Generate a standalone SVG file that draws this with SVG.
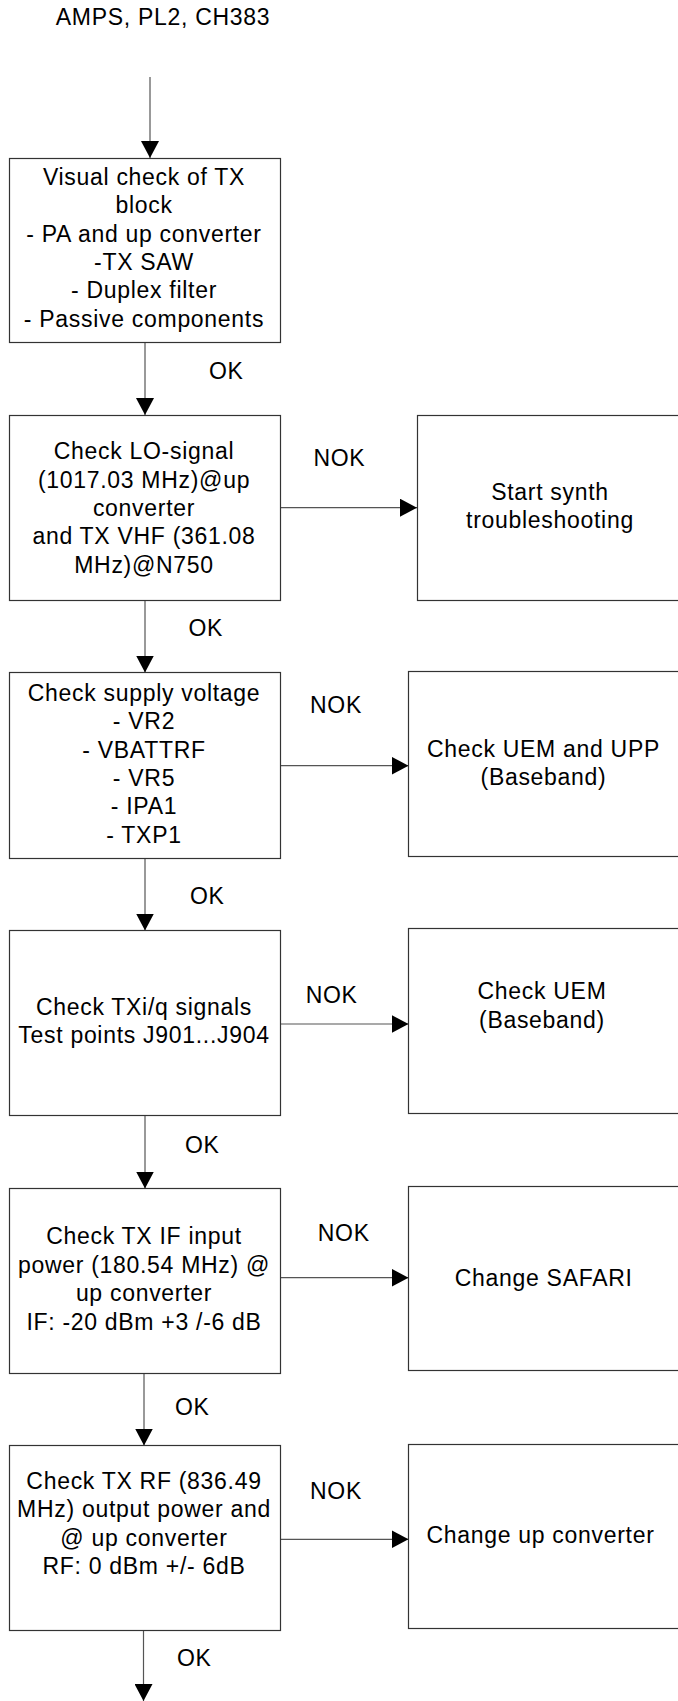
<svg xmlns="http://www.w3.org/2000/svg" width="678" height="1701" viewBox="0 0 678 1701">
<style>
  .box { fill: #ffffff; stroke: #333333; stroke-width: 1.2; }
  .conn { fill: none; stroke: #555555; stroke-width: 1.2; }
  text { font-family: "Liberation Sans", Arial, sans-serif; font-size: 23px; fill: #000000; letter-spacing: 0.7px; }
  .c { text-anchor: middle; }
</style>
<defs>
  <marker id="arr" markerUnits="userSpaceOnUse" markerWidth="18" markerHeight="18" refX="17" refY="9" orient="auto">
    <path d="M0,0 L17,9 L0,18 Z" fill="#000000"/>
  </marker>
</defs>
<rect width="678" height="1701" fill="#ffffff"/>

<g id="title">
  <text x="163" y="25" class="c">AMPS, PL2, CH383</text>
</g>

<g id="connectors">
  <line class="conn" x1="150" y1="77" x2="150" y2="158" marker-end="url(#arr)"/>
  <line class="conn" x1="145" y1="343" x2="145" y2="415" marker-end="url(#arr)"/>
  <line class="conn" x1="145" y1="601" x2="145" y2="672.5" marker-end="url(#arr)"/>
  <line class="conn" x1="145" y1="858.5" x2="145" y2="930.5" marker-end="url(#arr)"/>
  <line class="conn" x1="145" y1="1115.5" x2="145" y2="1188.5" marker-end="url(#arr)"/>
  <line class="conn" x1="144" y1="1373.5" x2="144" y2="1445.5" marker-end="url(#arr)"/>
  <line class="conn" x1="143.5" y1="1630.5" x2="143.5" y2="1701" marker-end="url(#arr)"/>
  <line class="conn" x1="280.5" y1="507.7" x2="417" y2="507.7" marker-end="url(#arr)"/>
  <line class="conn" x1="280.5" y1="765.7" x2="408.5" y2="765.7" marker-end="url(#arr)"/>
  <line class="conn" x1="280.5" y1="1024" x2="408.5" y2="1024" marker-end="url(#arr)"/>
  <line class="conn" x1="280.5" y1="1277.7" x2="408.5" y2="1277.7" marker-end="url(#arr)"/>
  <line class="conn" x1="280.5" y1="1539.3" x2="408.5" y2="1539.3" marker-end="url(#arr)"/>
  <text x="209" y="379">OK</text>
  <text x="188.5" y="636">OK</text>
  <text x="190" y="904">OK</text>
  <text x="185" y="1152.7">OK</text>
  <text x="175" y="1415">OK</text>
  <text x="177" y="1666">OK</text>
  <text x="313.4" y="466">NOK</text>
  <text x="310" y="712.7">NOK</text>
  <text x="305.7" y="1002.7">NOK</text>
  <text x="317.8" y="1240.7">NOK</text>
  <text x="310" y="1499.3">NOK</text>
</g>

<g id="visual-check">
  <rect class="box" x="9.5" y="158.5" width="271" height="184"/>
  <text class="c" x="144" y="185">Visual check of TX</text>
  <text class="c" x="144" y="213.3">block</text>
  <text class="c" x="144" y="241.7">- PA and up converter</text>
  <text class="c" x="144" y="270">-TX SAW</text>
  <text class="c" x="144" y="298.3">- Duplex filter</text>
  <text class="c" x="144" y="326.7">- Passive components</text>
</g>

<g id="check-lo">
  <rect class="box" x="9.5" y="415.5" width="271" height="185"/>
  <text class="c" x="144" y="459.3">Check LO-signal</text>
  <text class="c" x="144" y="487.6">(1017.03 MHz)@up</text>
  <text class="c" x="144" y="515.9">converter</text>
  <text class="c" x="144" y="544.2">and TX VHF (361.08</text>
  <text class="c" x="144" y="572.5">MHz)@N750</text>
</g>

<g id="synth">
  <rect class="box" x="417.5" y="415.5" width="280" height="185"/>
  <text class="c" x="550" y="500">Start synth</text>
  <text class="c" x="550" y="528.3">troubleshooting</text>
</g>

<g id="supply">
  <rect class="box" x="9.5" y="672.5" width="271" height="186"/>
  <text class="c" x="144" y="701">Check supply voltage</text>
  <text class="c" x="144" y="729.3">- VR2</text>
  <text class="c" x="144" y="757.6">- VBATTRF</text>
  <text class="c" x="144" y="785.9">- VR5</text>
  <text class="c" x="144" y="814.2">- IPA1</text>
  <text class="c" x="144" y="842.5">- TXP1</text>
</g>

<g id="uem-upp">
  <rect class="box" x="408.5" y="671.5" width="290" height="185"/>
  <text class="c" x="543.5" y="756.7">Check UEM and UPP</text>
  <text class="c" x="543.5" y="785">(Baseband)</text>
</g>

<g id="txiq">
  <rect class="box" x="9.5" y="930.5" width="271" height="185"/>
  <text class="c" x="144" y="1015">Check TXi/q signals</text>
  <text class="c" x="144" y="1043.3">Test points J901...J904</text>
</g>

<g id="uem">
  <rect class="box" x="408.5" y="928.5" width="290" height="185"/>
  <text class="c" x="542" y="999.3">Check UEM</text>
  <text class="c" x="542" y="1027.6">(Baseband)</text>
</g>

<g id="tx-if">
  <rect class="box" x="9.5" y="1188.5" width="271" height="185"/>
  <text class="c" x="144" y="1244">Check TX IF input</text>
  <text class="c" x="144" y="1272.5">power (180.54 MHz) @</text>
  <text class="c" x="144" y="1301">up converter</text>
  <text class="c" x="144" y="1329.5">IF: -20 dBm +3 /-6 dB</text>
</g>

<g id="safari">
  <rect class="box" x="408.5" y="1186.5" width="290" height="184"/>
  <text class="c" x="543.7" y="1286">Change SAFARI</text>
</g>

<g id="tx-rf">
  <rect class="box" x="9.5" y="1445.5" width="271" height="185"/>
  <text class="c" x="144" y="1489">Check TX RF (836.49</text>
  <text class="c" x="144" y="1517.3">MHz) output power and</text>
  <text class="c" x="144" y="1545.6">@ up converter</text>
  <text class="c" x="144" y="1573.9">RF: 0 dBm +/- 6dB</text>
</g>

<g id="up-converter">
  <rect class="box" x="408.5" y="1444.5" width="290" height="184"/>
  <text class="c" x="540.5" y="1543.3">Change up converter</text>
</g>
</svg>
